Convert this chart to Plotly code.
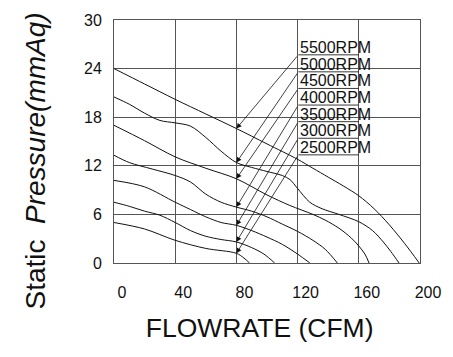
import plotly.graph_objects as go

# ---- data ----
rpm_labels = ["5500RPM", "5000RPM", "4500RPM", "4000RPM", "3500RPM", "3000RPM", "2500RPM"]

flow_5500 = [0, 20, 40, 60, 80, 100, 120, 130, 140, 150, 160, 170, 180, 190, 199.5]
pres_5500 = [24.0, 22.1, 20.2, 18.4, 16.6, 14.7, 12.8, 11.7, 10.6, 9.5, 8.3, 6.7, 4.7, 2.4, 0.0]

flow_5000 = [0, 10, 20, 30, 40, 50, 60, 70, 80, 90, 100, 110, 115, 120, 128, 136, 147, 160, 169, 176, 181, 186.3]
pres_5000 = [20.5, 19.6, 18.5, 17.6, 17.3, 16.9, 15.5, 13.8, 12.4, 11.8, 11.3, 10.8, 10.3, 9.2, 7.5, 6.7, 6.0, 5.1, 4.0, 2.6, 1.4, 0.0]

flow_4500 = [0, 20, 40, 60, 80, 100, 115, 130, 138, 147, 155, 160, 164, 166.7]
pres_4500 = [17.0, 15.1, 13.1, 11.7, 10.4, 8.4, 7.1, 6.0, 5.3, 4.3, 3.1, 2.1, 1.1, 0.0]

flow_4000 = [0, 10, 25, 40, 50, 60, 70, 80, 90, 100, 110, 120, 130, 138, 146]
pres_4000 = [13.3, 12.4, 11.6, 10.8, 10.0, 8.5, 7.5, 6.9, 6.4, 5.7, 4.8, 3.9, 2.8, 1.7, 0.0]

flow_3500 = [0, 20, 40, 50, 60, 70, 80, 90, 100, 110, 120, 128]
pres_3500 = [10.2, 9.4, 7.5, 6.6, 5.7, 5.0, 4.65, 4.0, 3.2, 2.3, 1.1, 0.0]

flow_3000 = [0, 10, 20, 30, 40, 50, 60, 70, 80, 90, 98, 105]
pres_3000 = [7.5, 7.0, 6.4, 5.9, 5.0, 4.0, 3.3, 2.9, 2.6, 1.9, 1.1, 0.0]

flow_2500 = [0, 20, 40, 60, 80, 85, 88.6]
pres_2500 = [5.0, 4.2, 2.8, 1.8, 1.2, 0.6, 0.0]

# arrow tips (on each curve at 80 CFM) and label anchor positions
arrow_tip_flow = [80, 80, 80, 80, 80, 80, 80]
arrow_tip_pres = [16.6, 12.4, 10.4, 6.9, 4.65, 2.6, 1.2]
label_flow_start = 120.5
label_flow_end = 160
label_text_pres = [26.57, 24.53, 22.48, 20.44, 18.39, 16.35, 14.3]
label_line_pres = [25.7, 23.6, 21.55, 19.5, 17.45, 15.4, 13.35]

x_ticks = [0, 40, 80, 120, 160, 200]
y_ticks = [0, 6, 12, 18, 24, 30]

series = [
    (flow_5500, pres_5500), (flow_5000, pres_5000), (flow_4500, pres_4500),
    (flow_4000, pres_4000), (flow_3500, pres_3500), (flow_3000, pres_3000),
    (flow_2500, pres_2500),
]

FONT = "Liberation Sans, Arial, sans-serif"

fig = go.Figure()
for (fx, py), name in zip(series, rpm_labels):
    fig.add_trace(go.Scatter(
        x=fx, y=py, mode="lines", name=name,
        line=dict(color="#111111", width=1.0, shape="spline", smoothing=0.9),
        showlegend=False, hoverinfo="skip",
    ))

# underline leaders for labels
for lp in label_line_pres:
    fig.add_trace(go.Scatter(
        x=[label_flow_start, label_flow_end], y=[lp, lp], mode="lines",
        line=dict(color="#222222", width=0.9), showlegend=False, hoverinfo="skip",
    ))

for name, tx, ty, lp, tp in zip(rpm_labels, arrow_tip_flow, arrow_tip_pres, label_line_pres, label_text_pres):
    fig.add_annotation(
        x=tx, y=ty, ax=label_flow_start, ay=lp, axref="x", ayref="y",
        xref="x", yref="y", text="", showarrow=True,
        arrowhead=2, arrowsize=1.3, arrowwidth=0.8, arrowcolor="#111111",
        standoff=0,
    )
    fig.add_annotation(
        x=label_flow_start, y=tp, xref="x", yref="y", text=name,
        showarrow=False, xanchor="left", yanchor="middle",
        font=dict(family=FONT, size=16, color="#111111"),
    )

fig.update_layout(
    width=453, height=357,
    margin=dict(l=114, r=32, t=18, b=94),
    paper_bgcolor="white", plot_bgcolor="white",
    font=dict(family=FONT, color="#111111"),
)
fig.update_xaxes(
    range=[0, 200], tickvals=x_ticks, ticktext=[str(v) for v in x_ticks],
    showgrid=True, gridcolor="#555555", gridwidth=1,
    showline=True, linecolor="#555555", linewidth=1, mirror=True,
    zeroline=False, ticks="outside", ticklen=15, tickcolor="rgba(0,0,0,0)",
    ticklabelshift=8,
    tickfont=dict(family=FONT, size=16, color="#111111"),
    title=dict(text="FLOWRATE (CFM)&nbsp;&nbsp;", font=dict(family=FONT, size=26.5, color="#111111"), standoff=18),
)
fig.update_yaxes(
    range=[0, 30], tickvals=y_ticks, ticktext=[str(v) for v in y_ticks],
    showgrid=True, gridcolor="#555555", gridwidth=1,
    showline=True, linecolor="#555555", linewidth=1, mirror=True,
    zeroline=False, ticks="outside", ticklen=8, tickcolor="rgba(0,0,0,0)",
    tickfont=dict(family=FONT, size=16, color="#111111"),
    title=dict(text="Static&nbsp;&nbsp;<i>Pressure(mmAq)</i>&nbsp;&nbsp;&nbsp;&nbsp;&nbsp;",
               font=dict(family=FONT, size=28, color="#111111"), standoff=30),
)

fig.write_html("out.html", config={"displayModeBar": False},
               post_script="document.body.style.margin='0';document.body.style.padding='0';")
